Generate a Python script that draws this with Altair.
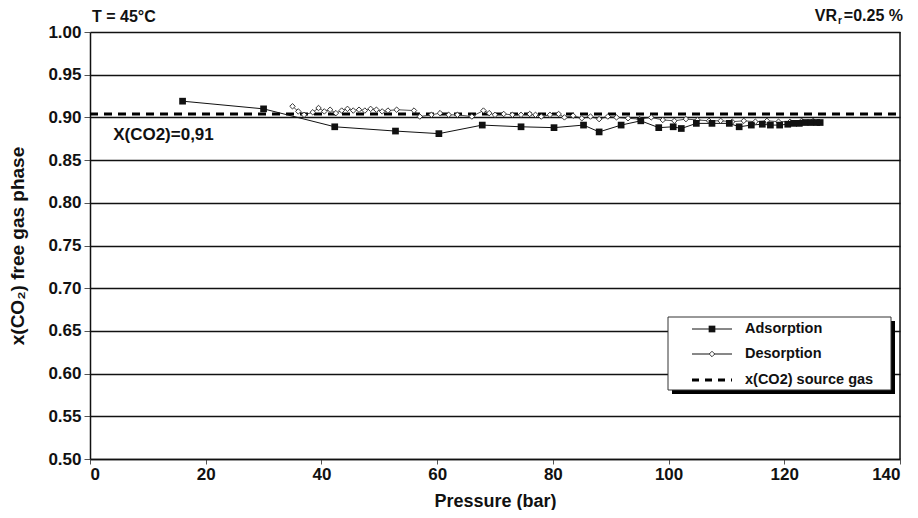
import altair as alt
import pandas as pd

# ---- data ----
ads_p = [16, 30, 42.3, 52.8, 60.3, 67.8, 74.5, 80.2, 85.3, 88, 91.8, 95.2, 98.3, 100.8,
         102.2, 104.8, 107.5, 110.5, 112.2, 114.3, 116.2, 117.6, 119.2, 120.6, 121.6,
         122.6, 123.6, 124.6, 125.6, 126.2]
ads_v = [0.919, 0.910, 0.889, 0.884, 0.881, 0.891, 0.889, 0.888, 0.891, 0.883, 0.891,
         0.896, 0.888, 0.889, 0.887, 0.893, 0.893, 0.893, 0.889, 0.891, 0.892, 0.891,
         0.891, 0.892, 0.893, 0.893, 0.894, 0.894, 0.894, 0.894]

des_p = [35, 36, 37, 38.5, 39.5, 40.5, 41.5, 42.5, 43.5, 44.5, 45.5, 46.5, 47.5, 48.5,
         49.5, 50.5, 51.5, 53, 56, 57, 59, 60.5, 62, 63.5, 66, 68, 69, 70, 71.5, 73, 74.5,
         76, 77, 78, 79.5, 81, 82, 83.5, 85, 86.5, 88, 89.5, 91, 93, 95, 97, 99, 101, 103,
         105, 107, 109, 111, 113, 115, 117, 119, 121, 123, 125]
des_v = [0.913, 0.907, 0.903, 0.906, 0.911, 0.907, 0.909, 0.905, 0.908, 0.910, 0.908,
         0.909, 0.908, 0.910, 0.909, 0.907, 0.908, 0.909, 0.908, 0.901, 0.903, 0.905,
         0.903, 0.903, 0.901, 0.908, 0.905, 0.903, 0.904, 0.903, 0.903, 0.904, 0.903,
         0.901, 0.903, 0.904, 0.900, 0.902, 0.899, 0.901, 0.898, 0.901, 0.900, 0.899,
         0.898, 0.900, 0.897, 0.896, 0.898, 0.897, 0.896, 0.896, 0.895, 0.896, 0.895,
         0.896, 0.895, 0.895, 0.896, 0.896]

source_x = [0, 140]
source_v = [0.904, 0.904]

y_ticks = [0.50, 0.55, 0.60, 0.65, 0.70, 0.75, 0.80, 0.85, 0.90, 0.95, 1.00]
x_ticks = [0, 20, 40, 60, 80, 100, 120, 140]

legend_labels = ["Adsorption", "Desorption", "x(CO2) source gas"]

FONT = "Liberation Sans"

ads = pd.DataFrame({"p": ads_p, "v": ads_v})
des = pd.DataFrame({"p": des_p, "v": des_v})
src = pd.DataFrame({"p": source_x, "v": source_v})

xs = alt.Scale(domain=[0, 140], nice=False, zero=False)
ys = alt.Scale(domain=[0.5, 1.0], nice=False, zero=False)

xax = alt.Axis(values=x_ticks, title="Pressure (bar)", grid=False, format="d",
               labelFont=FONT, labelFontSize=17, labelFontWeight="bold", labelColor="#111",
               titleFont=FONT, titleFontSize=18, titleFontWeight="bold", titleColor="#111",
               titlePadding=10, tickSize=5, tickColor="#555", domainColor="#111",
               domainWidth=1.5, labelPadding=2)
yax = alt.Axis(values=y_ticks, title="x(CO₂) free gas phase", format=".2f", grid=True,
               gridColor="#111", gridWidth=1.4,
               labelFont=FONT, labelFontSize=17, labelFontWeight="bold", labelColor="#111",
               titleFont=FONT, titleFontSize=19, titleFontWeight="bold", titleColor="#111",
               titlePadding=20, tickSize=6, tickColor="#555", domainColor="#111",
               domainWidth=1.5, labelPadding=3)

base_src = alt.Chart(src).mark_line(color="#000", strokeWidth=3, strokeDash=[8, 6]).encode(
    x=alt.X("p:Q", scale=xs, axis=xax),
    y=alt.Y("v:Q", scale=ys, axis=yax),
)

ads_line = alt.Chart(ads).mark_line(color="#111", strokeWidth=1).encode(
    x=alt.X("p:Q", scale=xs), y=alt.Y("v:Q", scale=ys))
ads_pts = alt.Chart(ads).mark_point(shape="square", filled=True, color="#111", size=45,
                                    opacity=1).encode(
    x=alt.X("p:Q", scale=xs), y=alt.Y("v:Q", scale=ys))

des_line = alt.Chart(des).mark_line(color="#222", strokeWidth=0.8).encode(
    x=alt.X("p:Q", scale=xs), y=alt.Y("v:Q", scale=ys))
des_pts = alt.Chart(des).mark_point(shape="diamond", filled=True, fill="white", stroke="#222",
                                    strokeWidth=0.9, size=30, opacity=1).encode(
    x=alt.X("p:Q", scale=xs), y=alt.Y("v:Q", scale=ys))

# right frame
frame = alt.Chart(pd.DataFrame({"p": [140]})).mark_rule(color="#111", strokeWidth=1.5).encode(
    x=alt.X("p:Q", scale=xs), y=alt.value(0), y2=alt.value(427))

note = alt.Chart(pd.DataFrame({"p": [4.0], "v": [0.8735], "t": ["X(CO2)=0,91"]})).mark_text(
    align="left", baseline="alphabetic", font=FONT, fontSize=17, fontWeight="bold",
    color="#111").encode(x=alt.X("p:Q", scale=xs), y=alt.Y("v:Q", scale=ys), text="t:N")

def txt(s, x, y, size=15, align="left", baseline="alphabetic"):
    return alt.Chart(pd.DataFrame({"t": [s]})).mark_text(
        align=align, baseline=baseline, font=FONT, fontSize=size, fontWeight="bold",
        color="#111").encode(x=alt.value(x), y=alt.value(y), text="t:N")

top_left = txt("T = 45°C", 2, -10, size=16)
vr1 = txt("=0.25 %", 813, -11, size=16, align="right")
vr2 = txt("r", 752, -8, size=10, align="right")
vr3 = txt("VR", 747, -11, size=16, align="right")

# legend box
one = pd.DataFrame({"a": [0]})
shadow = alt.Chart(one).mark_rect(color="#000").encode(
    x=alt.value(582), x2=alt.value(805), y=alt.value(289), y2=alt.value(362))
box = alt.Chart(one).mark_rect(fill="white", stroke="#333", strokeWidth=1).encode(
    x=alt.value(578), x2=alt.value(801), y=alt.value(285), y2=alt.value(358))
rows_y = [297, 322, 348]
leg_l1 = alt.Chart(one).mark_rule(color="#111", strokeWidth=1).encode(
    x=alt.value(602), x2=alt.value(642), y=alt.value(rows_y[0]))
leg_m1 = alt.Chart(one).mark_point(shape="square", filled=True, color="#111", size=45,
                                   opacity=1).encode(x=alt.value(622), y=alt.value(rows_y[0]))
leg_l2 = alt.Chart(one).mark_rule(color="#111", strokeWidth=1).encode(
    x=alt.value(602), x2=alt.value(642), y=alt.value(rows_y[1]))
leg_m2 = alt.Chart(one).mark_point(shape="diamond", filled=True, fill="white", stroke="#222",
                                   strokeWidth=0.9, size=30, opacity=1).encode(
    x=alt.value(622), y=alt.value(rows_y[1]))
leg_l3 = alt.Chart(one).mark_rule(color="#000", strokeWidth=3, strokeDash=[7, 6]).encode(
    x=alt.value(602), x2=alt.value(642), y=alt.value(rows_y[2]))
leg_t = [txt(lbl, 655, yy, size=14.5, baseline="middle") for lbl, yy in zip(legend_labels, rows_y)]

chart = alt.layer(
    base_src, ads_line, des_line, des_pts, ads_pts, frame, note,
    top_left, vr1, vr2, vr3,
    shadow, box, leg_l1, leg_m1, leg_l2, leg_m2, leg_l3, *leg_t
).properties(
    width=810, height=427,
    padding={"left": 82, "top": 24, "right": 10, "bottom": 51},
    autosize=alt.AutoSizeParams(type="none"),
).configure_view(stroke=None).configure(background="white")

chart.save("out.html", embed_options={"renderer": "svg", "actions": False})
